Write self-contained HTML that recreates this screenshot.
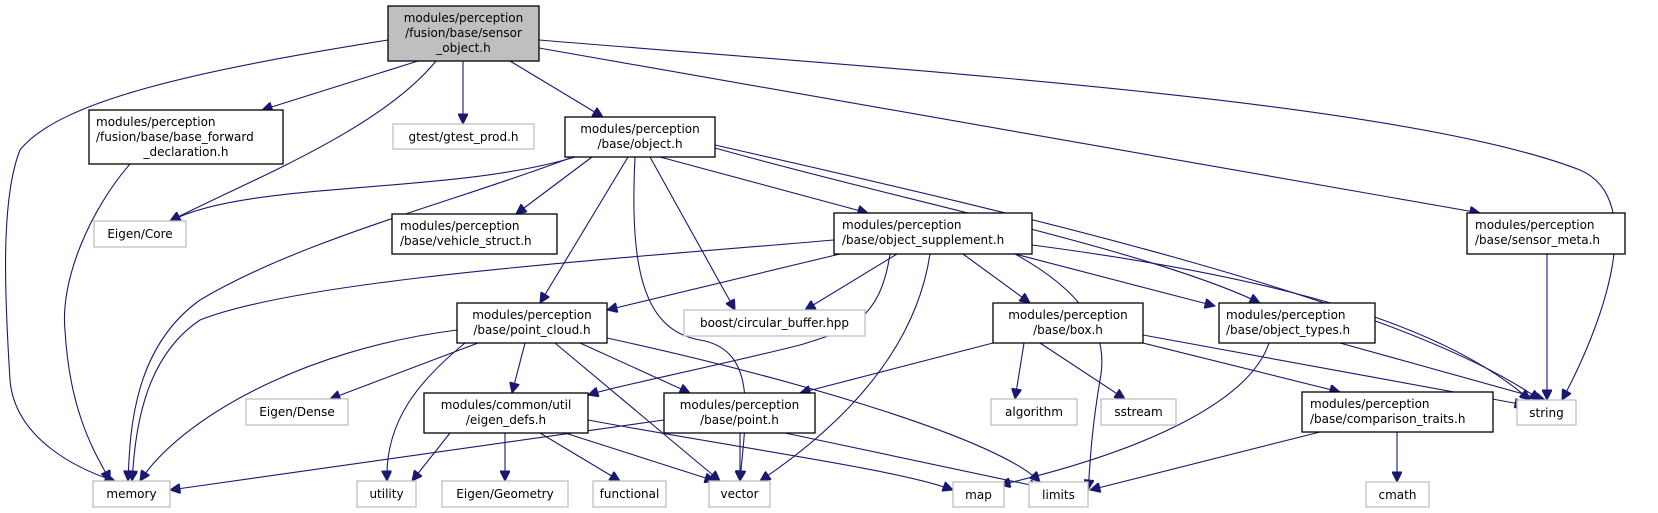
<!DOCTYPE html>
<html><head><meta charset="utf-8"><style>
html,body{margin:0;padding:0;background:#fff}
svg{display:block}
text{font-family:"DejaVu Sans","Liberation Sans",sans-serif;font-size:12px;fill:#000}
.n{fill:#fff;stroke:#000;stroke-width:1.3}
.g{fill:#fff;stroke:#bfbfbf;stroke-width:1.3}
.e{fill:none;stroke:#191970;stroke-width:1.1}
</style></head><body>
<svg width="1658" height="513" viewBox="0 0 1658 513" xmlns="http://www.w3.org/2000/svg">
<defs><marker id="a" viewBox="0 0 10 10" refX="10" refY="5" markerWidth="12" markerHeight="10" markerUnits="userSpaceOnUse" orient="auto"><path d="M0,0 L10,5 L0,10 z" fill="#191970" stroke="#191970"/></marker></defs>
<g class="e" marker-end="url(#a)">
<path d="M388,40 C200,70 60,100 20,150 C0,200 5,300 10,380 C15,440 80,470 115,481"/>
<path d="M418,61 L262,110"/>
<path d="M436,61 C380,130 250,180 170,221"/>
<path d="M463,61 L463,124"/>
<path d="M510,61 L603,117"/>
<path d="M539,48 L1480,213"/>
<path d="M539,40 C900,70 1400,100 1580,170 C1650,200 1600,330 1562,400"/>
<path d="M130,164 C90,210 60,280 65,330 C70,420 100,460 110,481"/>
<path d="M575,157 C450,195 250,180 170,221"/>
<path d="M592,157 L516,214"/>
<path d="M570,158 C460,200 300,240 200,300 C130,350 130,440 128,481"/>
<path d="M628,157 L540,303"/>
<path d="M635,157 C630,260 640,330 700,340 C760,350 745,420 740,481"/>
<path d="M650,157 L735,310"/>
<path d="M660,157 L868,213"/>
<path d="M715,148 C900,200 1150,250 1260,303"/>
<path d="M715,145 C1000,210 1400,300 1540,400"/>
<path d="M834,240 C600,260 300,280 200,320 C140,360 135,440 132,481"/>
<path d="M840,254 L607,310"/>
<path d="M890,254 C880,320 850,330 800,345 C700,370 620,385 588,395"/>
<path d="M897,254 L805,310"/>
<path d="M930,254 C920,320 880,400 760,481"/>
<path d="M963,254 L1030,303"/>
<path d="M1015,254 L1215,306"/>
<path d="M1015,254 C1080,290 1110,330 1100,380 C1090,440 1090,470 1088,490"/>
<path d="M1032,245 C1300,280 1450,330 1530,400"/>
<path d="M457,330 C300,350 180,420 140,481"/>
<path d="M478,343 L330,399"/>
<path d="M465,343 C420,380 385,420 387,481"/>
<path d="M525,343 L512,393"/>
<path d="M555,343 L720,481"/>
<path d="M580,343 L690,393"/>
<path d="M607,338 C800,380 1000,440 1040,482"/>
<path d="M993,343 L800,393"/>
<path d="M1024,343 L1015,399"/>
<path d="M1040,343 L1125,399"/>
<path d="M1143,343 L1340,392"/>
<path d="M1143,335 L1525,405"/>
<path d="M1269,343 C1250,400 1150,450 1000,485"/>
<path d="M1340,343 L1545,400"/>
<path d="M1547,254 L1547,400"/>
<path d="M1320,432 L1090,490"/>
<path d="M1397,432 L1397,482"/>
<path d="M450,433 L412,481"/>
<path d="M505,433 L505,481"/>
<path d="M540,433 L620,481"/>
<path d="M565,433 L715,481"/>
<path d="M588,420 C750,450 900,470 953,490"/>
<path d="M664,420 L170,490"/>
<path d="M740,433 L740,481"/>
<path d="M785,433 L1040,487"/>
</g>
<g>
<rect x="388" y="6" width="151" height="55" style="fill:#bfbfbf;stroke:#000;stroke-width:1.3"/>
<text x="463.5" y="22" text-anchor="middle">modules/perception</text>
<text x="463.5" y="37" text-anchor="middle">/fusion/base/sensor</text>
<text x="463.5" y="52" text-anchor="middle">_object.h</text>

<rect class="n" x="89" y="110" width="194" height="54"/>
<text x="96" y="126">modules/perception</text>
<text x="96" y="141">/fusion/base/base_forward</text>
<text x="186" y="156" text-anchor="middle">_declaration.h</text>

<rect class="g" x="393" y="124" width="141" height="25"/>
<text x="463.5" y="141" text-anchor="middle">gtest/gtest_prod.h</text>

<rect class="n" x="565" y="117" width="150" height="40"/>
<text x="640" y="133" text-anchor="middle">modules/perception</text>
<text x="640" y="148" text-anchor="middle">/base/object.h</text>

<rect class="g" x="94" y="221" width="92" height="26"/>
<text x="140" y="238" text-anchor="middle">Eigen/Core</text>

<rect class="n" x="392" y="214" width="165" height="40"/>
<text x="400" y="230">modules/perception</text>
<text x="400" y="245">/base/vehicle_struct.h</text>

<rect class="n" x="834" y="213" width="198" height="41"/>
<text x="842" y="229">modules/perception</text>
<text x="842" y="244">/base/object_supplement.h</text>

<rect class="n" x="1467" y="213" width="158" height="41"/>
<text x="1475" y="229">modules/perception</text>
<text x="1475" y="244">/base/sensor_meta.h</text>

<rect class="n" x="457" y="303" width="150" height="40"/>
<text x="532" y="319" text-anchor="middle">modules/perception</text>
<text x="532" y="334" text-anchor="middle">/base/point_cloud.h</text>

<rect class="g" x="684" y="310" width="181" height="26"/>
<text x="774.5" y="327" text-anchor="middle">boost/circular_buffer.hpp</text>

<rect class="n" x="993" y="303" width="150" height="40"/>
<text x="1068" y="319" text-anchor="middle">modules/perception</text>
<text x="1068" y="334" text-anchor="middle">/base/box.h</text>

<rect class="n" x="1219" y="303" width="156" height="40"/>
<text x="1226" y="319">modules/perception</text>
<text x="1226" y="334">/base/object_types.h</text>

<rect class="g" x="246" y="399" width="102" height="26"/>
<text x="297" y="416" text-anchor="middle">Eigen/Dense</text>

<rect class="n" x="424" y="393" width="164" height="40"/>
<text x="506" y="409" text-anchor="middle">modules/common/util</text>
<text x="506" y="424" text-anchor="middle">/eigen_defs.h</text>

<rect class="n" x="664" y="393" width="151" height="40"/>
<text x="739.5" y="409" text-anchor="middle">modules/perception</text>
<text x="739.5" y="424" text-anchor="middle">/base/point.h</text>

<rect class="g" x="991" y="399" width="86" height="26"/>
<text x="1034" y="416" text-anchor="middle">algorithm</text>

<rect class="g" x="1101" y="399" width="75" height="26"/>
<text x="1138.5" y="416" text-anchor="middle">sstream</text>

<rect class="n" x="1302" y="392" width="191" height="40"/>
<text x="1310" y="408">modules/perception</text>
<text x="1310" y="423">/base/comparison_traits.h</text>

<rect class="g" x="1517" y="400" width="59" height="25"/>
<text x="1546.5" y="417" text-anchor="middle">string</text>

<rect class="g" x="93" y="481" width="77" height="26"/>
<text x="131.5" y="498" text-anchor="middle">memory</text>
<rect class="g" x="357" y="481" width="59" height="26"/>
<text x="386.5" y="498" text-anchor="middle">utility</text>
<rect class="g" x="442" y="481" width="126" height="26"/>
<text x="505" y="498" text-anchor="middle">Eigen/Geometry</text>
<rect class="g" x="593" y="481" width="73" height="26"/>
<text x="629.5" y="498" text-anchor="middle">functional</text>
<rect class="g" x="709" y="481" width="61" height="26"/>
<text x="739.5" y="498" text-anchor="middle">vector</text>
<rect class="g" x="953" y="482" width="51" height="25"/>
<text x="978.5" y="499" text-anchor="middle">map</text>
<rect class="g" x="1029" y="482" width="59" height="25"/>
<text x="1058.5" y="499" text-anchor="middle">limits</text>
<rect class="g" x="1366" y="482" width="63" height="25"/>
<text x="1397.5" y="499" text-anchor="middle">cmath</text>
</g>
</svg>
</body></html>
